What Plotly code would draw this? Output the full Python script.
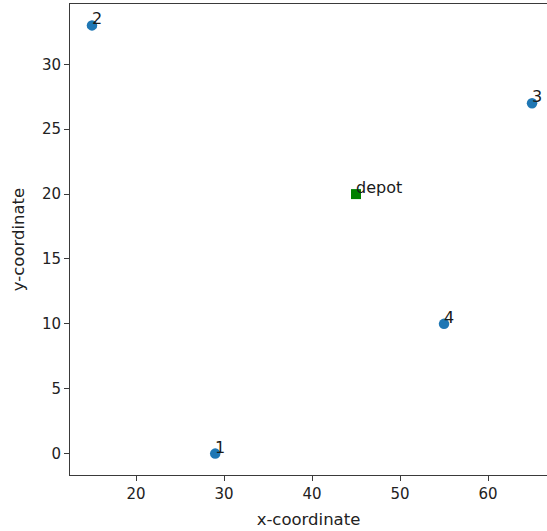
import plotly.graph_objects as go

# Customer locations and depot
customer_ids = ["1", "2", "3", "4"]
customer_x = [29, 15, 65, 55]
customer_y = [0, 33, 27, 10]
depot_label = "depot"
depot_x = [45]
depot_y = [20]

x_ticks = [20, 30, 40, 50, 60]
y_ticks = [0, 5, 10, 15, 20, 25, 30]

FONT = "DejaVu Sans"
LINE = "#3a3a3a"

fig = go.Figure()

fig.add_trace(go.Scatter(
    x=customer_x, y=customer_y, mode="markers",
    marker=dict(color="#1f77b4", size=10.5, symbol="circle"),
    showlegend=False, hoverinfo="skip",
))
fig.add_trace(go.Scatter(
    x=depot_x, y=depot_y, mode="markers",
    marker=dict(color="green", size=10, symbol="square"),
    showlegend=False, hoverinfo="skip",
))

# Labels anchored at their point, baseline on the point
labels = list(zip(customer_ids, customer_x, customer_y)) + [(depot_label, depot_x[0], depot_y[0])]
for text, x, y in labels:
    fig.add_annotation(
        x=x, y=y, text=text, showarrow=False,
        xanchor="left", yanchor="bottom", xshift=-2, yshift=-5,
        font=dict(family=FONT, size=16, color="#1a1a1a"),
    )

axis_common = dict(
    showgrid=False, zeroline=False, showline=True, linecolor=LINE, linewidth=1,
    ticks="outside", ticklen=5, tickwidth=1, tickcolor=LINE,
    tickfont=dict(family=FONT, size=15, color="#222"),
)

fig.update_layout(
    width=547, height=531,
    margin=dict(l=70, r=0, t=4, b=56),
    plot_bgcolor="white", paper_bgcolor="white",
    xaxis=dict(
        range=[12.5, 66.7], tickvals=x_ticks, mirror=True,
        title=dict(text="x-coordinate", font=dict(family=FONT, size=16.5, color="#222"), standoff=11),
        **axis_common,
    ),
    yaxis=dict(
        range=[-1.65, 34.65], tickvals=y_ticks, mirror=False,
        title=dict(text="y-coordinate", font=dict(family=FONT, size=16.5, color="#222"), standoff=13),
        **axis_common,
    ),
)

fig.write_html("out.html")
